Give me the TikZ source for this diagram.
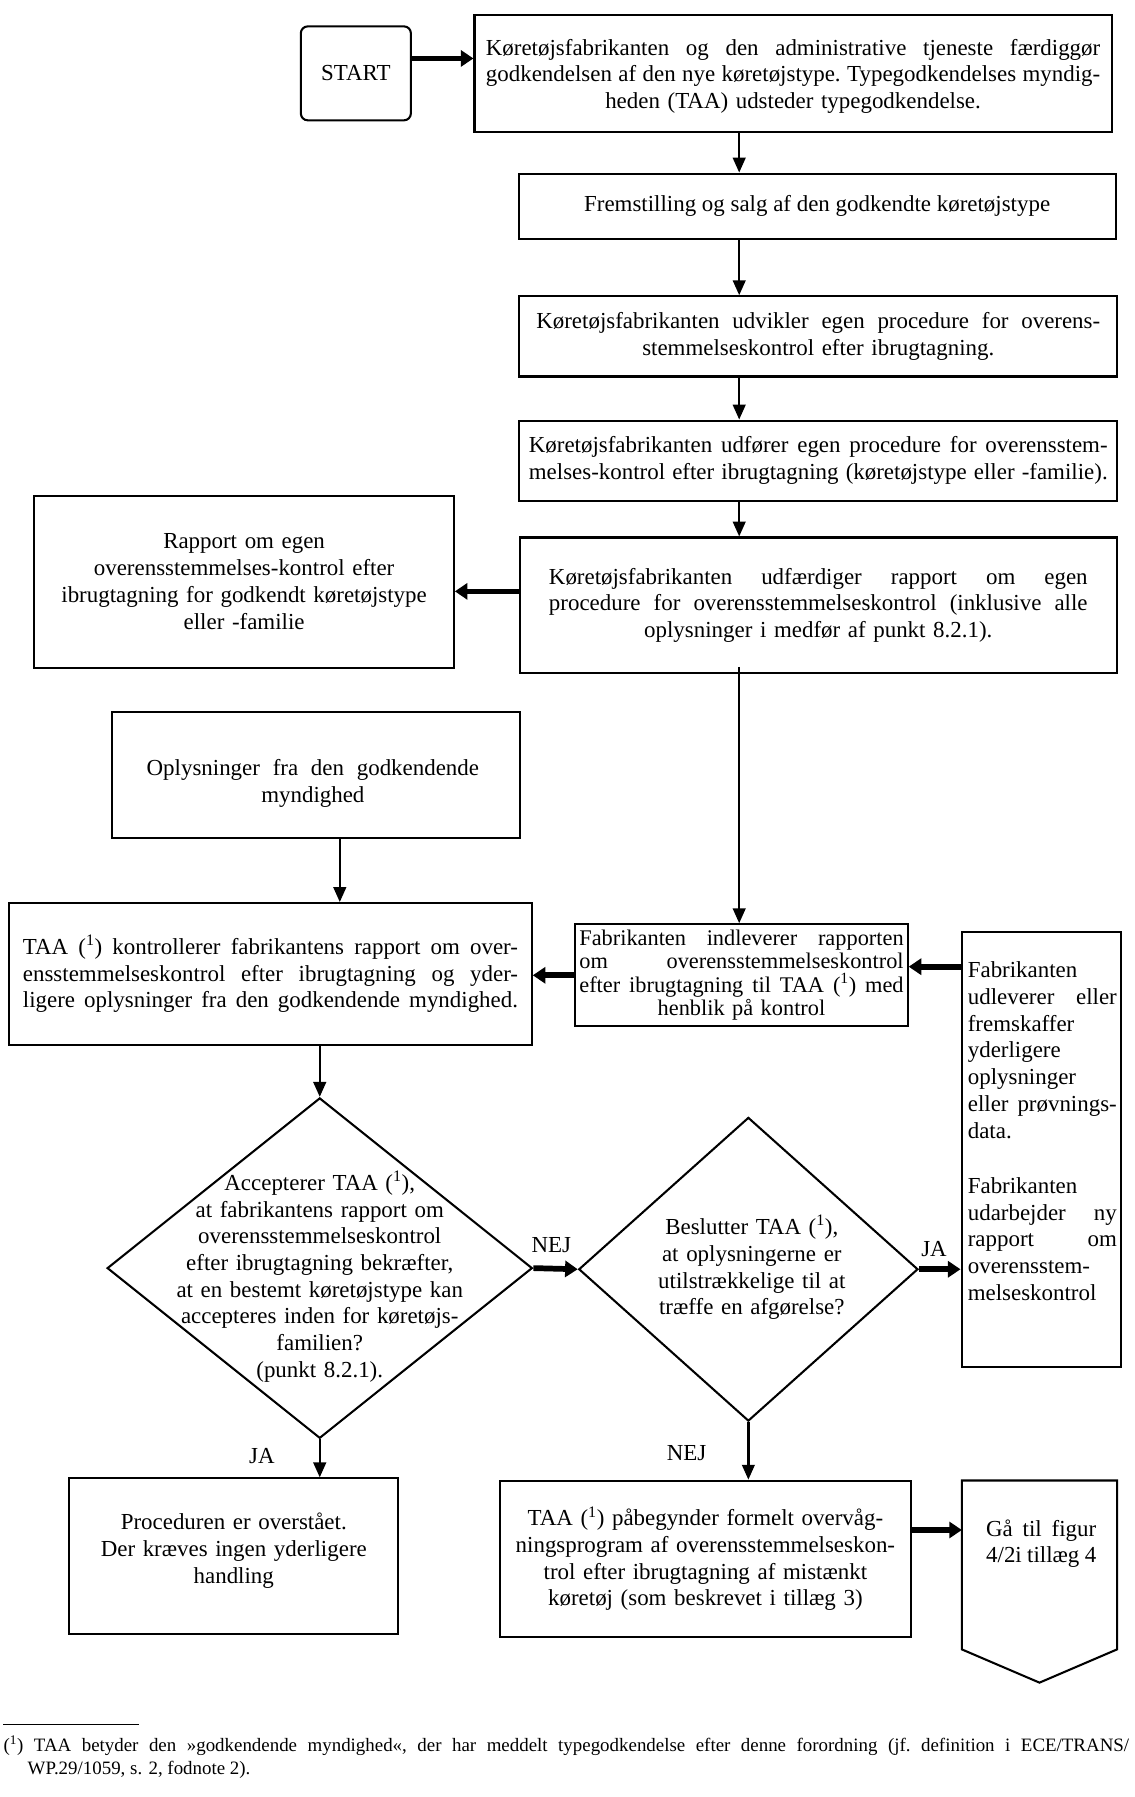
\documentclass[tikz,border=0pt]{standalone}
\usepackage{fontspec}
\setmainfont{Liberation Serif}
\usetikzlibrary{shapes.geometric,arrows.meta,calc}
\newcommand\jspaces{\frenchspacing\spaceskip=.25em plus 1fil minus .08em\xspaceskip=\spaceskip}
\newcommand\jl[1]{\makebox[\linewidth][s]{\jspaces #1}}
\newcommand\fnm{\textsuperscript{1}}
\newcommand\mainfs{\fontsize{20}{23.3}\selectfont}
\tikzset{
  box/.style={draw, line width=1.8pt, inner sep=0pt, align=center, font=\mainfs},
  plain/.style={inner sep=0pt, align=center, font=\mainfs},
  arr/.style={-{Triangle[length=13pt,width=11pt]}, line width=2pt},
  tarr/.style={-{Triangle[length=11pt,width=14pt]}, line width=5pt},
}
\begin{document}
\begin{tikzpicture}[x=1pt,y=-1pt]
\fill[white] (0,0) rectangle (990,1568);
\useasboundingbox (0,0) rectangle (990,1568);

% helper coordinates
\coordinate (vx) at (645,0);
\coordinate (ry) at (0,516);
\coordinate (ox) at (296.5,0);
\coordinate (iy) at (0,843.5);
\coordinate (gy) at (0,1335);

% top chain
\node[box, rounded corners=6pt, minimum width=96pt, minimum height=82pt] (start) at (310.5,64) {START};
\node[box, minimum width=556pt, minimum height=102pt] (b1) at (692,64) {};
\node[plain, text width=536pt] (b1t) at (692,66.5)
 {\jl{Køretøjsfabrikanten og den administrative tjeneste færdiggør}\\
  \jl{godkendelsen af den nye køretøjstype. Typegodkendelses myndig-}\\
  heden (TAA) udsteder typegodkendelse.};
\node[box, minimum width=521pt, minimum height=57pt] (b2) at (713,180)
 {Fremstilling og salg af den godkendte køretøjstype};
\node[box, minimum width=522pt, minimum height=70pt, text width=492pt] (b3) at (714,293.5)
 {\jl{Køretøjsfabrikanten udvikler egen procedure for overens-}\\
  stemmelseskontrol efter ibrugtagning.};
\node[box, minimum width=522pt, minimum height=70pt, text width=505pt] (b4) at (714,402)
 {\jl{Køretøjsfabrikanten udfører egen procedure for overensstem-}\\
  \jl{melses-kontrol efter ibrugtagning (køretøjstype eller -familie).}};
\node[box, minimum width=521pt, minimum height=118pt, text width=470pt] (b5) at (714,528)
 {\jl{Køretøjsfabrikanten udfærdiger rapport om egen}\\
  \jl{procedure for overensstemmelseskontrol (inklusive alle}\\
  oplysninger i medfør af punkt 8.2.1).};
\node[box, minimum width=366pt, minimum height=150pt, text width=350pt] (rap) at (213,507.5)
 {Rapport om egen\\ overensstemmelses-kontrol efter\\ ibrugtagning for godkendt køretøjstype\\ eller -familie};

% middle
\node[box, minimum width=356pt, minimum height=110pt] (opl) at (275.5,676.5) {};
\node[plain, text width=290pt] (oplt) at (273,683.5)
 {\jl{Oplysninger fra den godkendende}\\ myndighed};
\node[box, minimum width=456pt, minimum height=124pt, text width=432pt] (taa) at (236,850)
 {\jl{TAA (\fnm) kontrollerer fabrikantens rapport om over-}\\
  \jl{ensstemmelseskontrol efter ibrugtagning og yder-}\\
  \jl{ligere oplysninger fra den godkendende myndighed.}};
\node[box, minimum width=290pt, minimum height=89pt, text width=283pt, font=\fontsize{19.5}{20.5}\selectfont] (ind) at (647,851)
 {\jl{Fabrikanten indleverer rapporten}\\
  \jl{om overensstemmelseskontrol}\\
  \jl{efter ibrugtagning til TAA (\fnm) med}\\
  henblik på kontrol};
\node[box, minimum width=139pt, minimum height=380pt] (rbox) at (908.5,1003) {};
\node[plain, align=left, text width=130pt] (rtext) at (909.5,987)
 {Fabrikanten\\ \jl{udleverer eller}\\ fremskaffer\\ yderligere\\ oplysninger\\ \jl{eller prøvnings-}\\ data.\\[25pt]
  Fabrikanten\\ \jl{udarbejder ny}\\ \jl{rapport om}\\ overensstem-\\ melseskontrol};

% decisions
\node[diamond, draw, line width=1.8pt, minimum width=371pt, minimum height=297pt, inner sep=0pt] (d1) at (279,1106.5) {};
\node[plain, text width=300pt] (d1t) at (279,1114)
 {Accepterer TAA (\fnm),\\ at fabrikantens rapport om\\ overensstemmelseskontrol\\ efter ibrugtagning bekræfter,\\ at en bestemt køretøjstype kan\\ accepteres inden for køretøjs-\\ familien?\\ (punkt 8.2.1).};
\node[diamond, draw, line width=1.8pt, minimum width=296pt, minimum height=265pt, inner sep=0pt] (d2) at (653,1107.5) {};
\node[plain, text width=220pt] (d2t) at (656,1106)
 {Beslutter TAA (\fnm),\\ at oplysningerne er\\ utilstrækkelige til at\\ træffe en afgørelse?};

% bottom
\node[box, minimum width=287pt, minimum height=136pt] (proc) at (203.5,1358) {};
\node[plain, text width=270pt] (proct) at (204,1353)
 {Proceduren er overstået.\\ Der kræves ingen yderligere\\ handling};
\node[box, minimum width=359pt, minimum height=136pt, text width=340pt] (paa) at (615.5,1360)
 {TAA (\fnm) påbegynder formelt overvåg-\\ ningsprogram af overensstemmelseskon-\\ trol efter ibrugtagning af mistænkt\\ køretøj (som beskrevet i tillæg 3)};
\node[plain, minimum width=135pt, minimum height=147pt] (gaa) at (907,1365.5) {};
\draw[line width=1.8pt] (gaa.north west) -- (gaa.north east) -- (gaa.south east)
  -- ($(gaa.south)+(0,29)$) -- (gaa.south west) -- cycle;
\node[plain, text width=96pt] (gaat) at (908.5,1347) {\jl{Gå til figur}\\ \jl{4/2i tillæg 4}};

% labels
\node[plain] (lnej1) at (481,1086) {NEJ};
\node[plain] (lja1) at (815,1090) {JA};
\node[plain] (lja2) at (228.5,1270.5) {JA};
\node[plain] (lnej2) at (599,1268) {NEJ};

% connectors
\draw[tarr] ([yshift=13pt]start.east) -- ([yshift=13pt]start.east -| b1.west);
\draw[arr] (b1.south -| vx) -- (b2.north -| vx);
\draw[arr] (b2.south -| vx) -- (b3.north -| vx);
\draw[arr] (b3.south -| vx) -- (b4.north -| vx);
\draw[arr] (b4.south -| vx) -- (b5.north -| vx);
\draw[tarr] (b5.west |- ry) -- (rap.east |- ry);
\draw[arr] ([yshift=6pt]b5.south -| vx) -- (ind.north -| vx);
\draw[arr] (opl.south -| ox) -- (taa.north -| ox);
\draw[tarr] (ind.west) -- (taa.east |- ind.west);
\draw[tarr] (rbox.west |- iy) -- (ind.east |- iy);
\draw[arr] (taa.south -| d1.north) -- (d1.north);
\draw[tarr] (d1.east) -- (d2.west);
\draw[tarr] (d2.east) -- (rbox.west |- d2.east);
\draw[arr] (d1.south) -- (proc.north -| d1.south);
\draw[arr] (d2.south) -- (paa.north -| d2.south);
\draw[tarr] (paa.east |- gy) -- (gaa.west |- gy);

% footnote
\draw[line width=1pt] (3,1505) -- (121,1505);
\node[inner sep=0pt, anchor=west, font=\fontsize{16.5}{20}\selectfont] (fn1) at (3,1523.5)
 {\makebox[982pt][s]{\jspaces (\fnm) TAA betyder den »godkendende myndighed«, der har meddelt typegodkendelse efter denne forordning (jf. definition i ECE/TRANS/}};
\node[inner sep=0pt, anchor=west, font=\fontsize{16.5}{20}\selectfont] (fn2) at (24,1544)
 {WP.29/1059, s. 2, fodnote 2).};
\end{tikzpicture}
\end{document}
